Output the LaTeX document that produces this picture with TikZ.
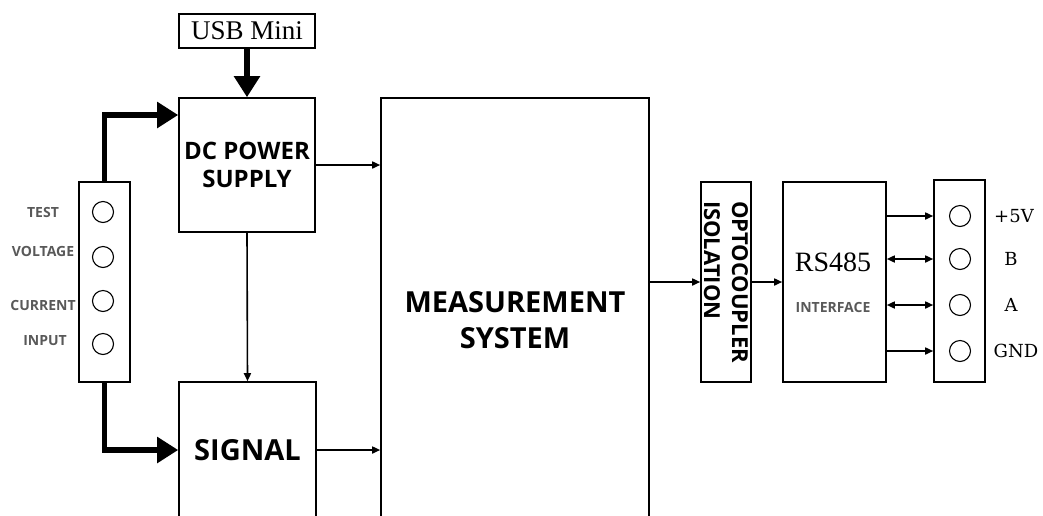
\documentclass[tikz,border=0pt]{standalone}
\usepackage{fontspec}
\setmainfont{Liberation Serif}
\setsansfont{Open Sans}
\newfontfamily\pinfont{DejaVu Serif}
\usetikzlibrary{arrows.meta}

\begin{document}
\begin{tikzpicture}[x=1pt, y=-1pt, line width=1.6pt,
  blk/.style={draw, inner sep=0pt},
  lbl/.style 2 args={font=\sffamily\bfseries\fontsize{#1}{#2}\selectfont, align=center},
  pinlbl/.style={font=\sffamily\bfseries\fontsize{14}{14}\selectfont, text=black!65},
  buslbl/.style={font=\pinfont\fontsize{18}{18}\selectfont},
  port/.style={draw, circle, minimum size=21pt, inner sep=0pt, line width=1.1pt},
  link/.style={-{Triangle[length=8pt,width=7pt]}},
  duplex/.style={{Triangle[length=8pt,width=7pt]}-{Triangle[length=8pt,width=7pt]}},
  feed/.style={line width=5.5pt, -{Triangle[length=21pt,width=25pt]}}]
  \useasboundingbox (0,0) rectangle (1043,515);
  \clip (0,0) rectangle (1043,515);

  % blocks
  \node[blk, minimum width=136, minimum height=34,
        font=\fontsize{27}{27}\selectfont] (usb) at (247,31) {USB Mini};
  \node[blk, minimum width=136, minimum height=134, lbl={24}{28}] (dc) at (247,165)
        {DC POWER\\SUPPLY};
  \node[blk, minimum width=137, minimum height=136, lbl={29}{29}] (sig) at (247.5,450) {SIGNAL};
  \node[blk, minimum width=268, minimum height=444, lbl={29}{36}] (meas) at (515,320)
        {MEASUREMENT\\SYSTEM};
  \node[blk, minimum width=51, minimum height=200] (conl) at (104.5,282) {};
  \node[blk, minimum width=50, minimum height=200] (opto) at (726,282) {};
  \node[rotate=-90, lbl={22}{28}, align=left] (optotxt) at (opto.center)
        {OPTOCOUPLER\\ISOLATION};
  \node[blk, minimum width=103, minimum height=200] (rs) at (834.5,282) {};
  \node[font=\fontsize{28}{28}\selectfont] (rstxt) at (833,262) {RS485};
  \node[pinlbl] (iftxt) at (833,307) {INTERFACE};
  \node[blk, minimum width=51, minimum height=202] (conr) at (959.5,281) {};

  % input terminals
  \node[port] (l1) at (103,212) {};
  \node[port] (l2) at (103,257) {};
  \node[port] (l3) at (103,301) {};
  \node[port] (l4) at (103,344) {};
  \node[pinlbl] (t1) at (43,212) {TEST};
  \node[pinlbl] (t2) at (43,251) {VOLTAGE};
  \node[pinlbl] (t3) at (43,305) {CURRENT};
  \node[pinlbl] (t4) at (45,341) {INPUT};

  % bus terminals
  \node[port] (r1) at (960,216) {};
  \node[port] (r2) at (960,259) {};
  \node[port] (r3) at (960,305) {};
  \node[port] (r4) at (960,351) {};
  \node[buslbl] (v1) at (1014,216) {+5V};
  \node[buslbl] (v2) at (1011,259) {B};
  \node[buslbl] (v3) at (1011,305) {A};
  \node[buslbl] (v4) at (1016,351) {GND};

  % connections
  \draw[feed] (usb.south) -- (dc.north);
  \draw[feed] (conl.north) |- ([yshift=50pt]dc.west);
  \draw[feed] (conl.south) |- (sig.west);
  \draw[link] (dc.south) -- (sig.north);
  \draw[link] (dc.east) -- (dc.east -| meas.west);
  \draw[link] (sig.east) -- (sig.east -| meas.west);
  \draw[link] (meas.east |- opto.west) -- (opto.west);
  \draw[link] (opto.east) -- (rs.west);
  \draw[link] (rs.east |- r1) -- (conr.west |- r1);
  \draw[duplex] (rs.east |- r2) -- (conr.west |- r2);
  \draw[duplex] (rs.east |- r3) -- (conr.west |- r3);
  \draw[link] (rs.east |- r4) -- (conr.west |- r4);
\end{tikzpicture}
\end{document}
